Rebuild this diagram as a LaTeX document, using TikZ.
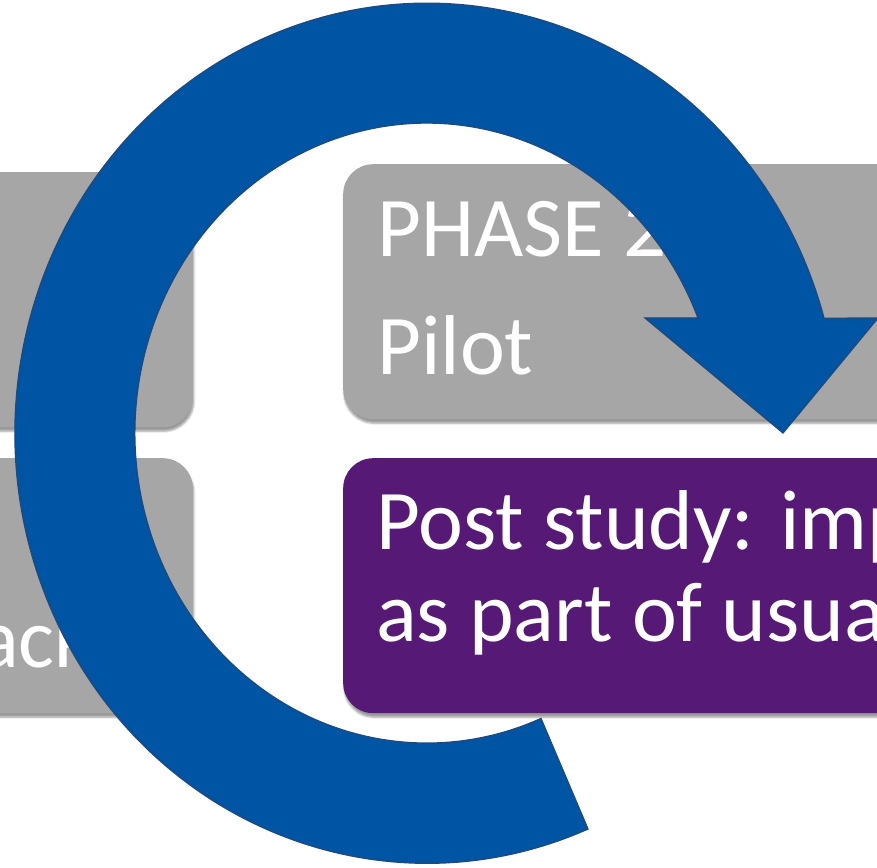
\documentclass[tikz,border=0pt]{standalone}
\usepackage{fontspec}
\setmainfont{Carlito}
\usetikzlibrary{shadows.blur}

\definecolor{phasegray}{HTML}{A6A6A6}
\definecolor{poststudy}{HTML}{561A76}
\definecolor{cycleblue}{HTML}{0054A4}
\definecolor{cycleedge}{HTML}{1D4A7F}

\tikzset{
  phasebox/.style={rectangle, rounded corners=30pt, fill=phasegray,
    minimum width=600pt, minimum height=255pt, inner sep=0pt,
    blur shadow={shadow xshift=1pt, shadow yshift=-4pt, shadow blur steps=6}},
  boxtext/.style={text=white, font=\fontsize{85}{100}\selectfont,
    inner sep=0pt, anchor=base west},
}

\begin{document}
\begin{tikzpicture}[x=1pt, y=1pt]
  \useasboundingbox (0,0) rectangle (877,867);
  \clip (0,0) rectangle (877,867);

  % the four phase boxes
  \node[phasebox, anchor=north east] (P1) at (193,695) {};
  \node[phasebox, anchor=north east] (F1) at (193,409) {};
  \node[phasebox, anchor=north west] (P2) at (343,703) {};
  \node[phasebox, anchor=north west, fill=poststudy] (PS) at (343,409) {};

  \node[boxtext] (fb) at (-22,199) {ack};
  \node[boxtext] (ph2) at (377,610) {PHASE 2};
  \node[boxtext] (pil) at (377,492) {Pilot};
  \node[boxtext] (ps1) at (376,317) {Post study: imp};
  \node[boxtext] (ps2) at (376,225) {as part of usua};

  % circular arrow, centre (427,434)
  \filldraw[fill=cycleblue, draw=cycleedge, line width=1.3pt, line join=miter]
    (588,38) arc[start angle=-67, end angle=-344.5, x radius=412, y radius=430]
    -- (878,549) -- (783,434) -- (645,549) -- (698,549)
    arc[start angle=21.8, end angle=293, x radius=292, y radius=310]
    -- cycle;
\end{tikzpicture}
\end{document}
